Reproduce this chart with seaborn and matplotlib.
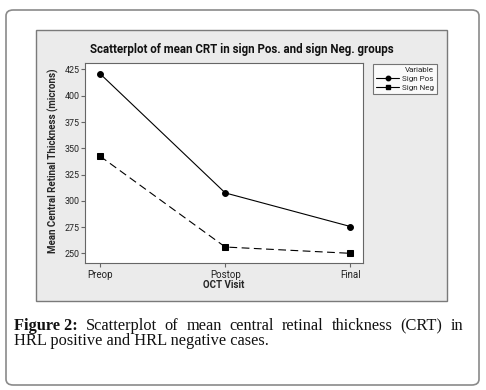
import matplotlib
matplotlib.use("Agg")
import matplotlib.pyplot as plt
import seaborn as sns
import pandas as pd
from matplotlib.patches import FancyBboxPatch, Rectangle
from matplotlib.lines import Line2D

visits = ["Preop", "Postop", "Final"]
sign_pos = [421.0, 307.5, 275.5]
sign_neg = [342.5, 256.0, 250.0]
yticks = [250, 275, 300, 325, 350, 375, 400, 425]

sns.set_theme(style="white")
plt.rcParams['font.family'] = ['Roboto', 'DejaVu Sans']

W, H = 486, 390
fig = plt.figure(figsize=(W / 100, H / 100), dpi=100)
fig.patch.set_facecolor("white")

def fx(x): return x / W
def fy(y): return 1 - y / H

# outer rounded border
fig.patches.append(FancyBboxPatch((fx(6), fy(385)), fx(479) - fx(6), fy(10) - fy(385),
                                  boxstyle="round,pad=0,rounding_size=0.015",
                                  transform=fig.transFigure, facecolor="white",
                                  edgecolor="#8a8a8a", linewidth=1.2, zorder=0))
# gray panel
fig.patches.append(Rectangle((fx(36), fy(301)), fx(447) - fx(36), fy(30.5) - fy(301),
                             transform=fig.transFigure, facecolor="#ebebeb",
                             edgecolor="#7a7a7a", linewidth=1.0, zorder=1))

ax = fig.add_axes([fx(85), fy(263.3), fx(363) - fx(85), fy(63.3) - fy(263.3)])
ax.set_zorder(3)
ax.set_facecolor("white")

df = pd.DataFrame({
    "visit": visits * 2,
    "crt": sign_pos + sign_neg,
    "Variable": ["Sign Pos"] * 3 + ["Sign Neg"] * 3,
})
sns.lineplot(data=df, x="visit", y="crt", hue="Variable", style="Variable",
             palette=["black", "black"], markers={"Sign Pos": "o", "Sign Neg": "s"},
             dashes={"Sign Pos": "", "Sign Neg": (7, 4)}, linewidth=0.8,
             markersize=4.2, markeredgecolor="black", ax=ax, legend=False, sort=False)

ax.set_xlim(-0.12, 2.1)
ax.set_ylim(240.5, 430.9)
ax.set_yticks(yticks)
ax.set_xticks(range(len(visits)))
ax.set_xticklabels(visits)
for s in ax.spines.values():
    s.set_color("#666666")
    s.set_linewidth(0.8)
ax.tick_params(axis="both", which="both", length=3, width=0.8, color="#666666",
               labelcolor="#222222", direction="out", left=True, bottom=True)
ax.tick_params(axis="y", labelsize=6.4, pad=1)
ax.tick_params(axis="x", labelsize=7.0, pad=2)
ax.set_xlabel("OCT Visit", fontsize=7.0, fontweight="bold")
ax.set_ylabel("Mean Central Retinal Thickness (microns)", fontsize=7.0,
              fontweight="bold")
ax.yaxis.set_label_coords((53 - 85) / 278, 0.515)
ax.xaxis.set_label_coords(0.5, (263.3 - 285.5) / 200)
ax.xaxis.label.set_va("center")
ax.yaxis.label.set_va("center")

fig.text(fx(241.5), fy(50), "Scatterplot of mean CRT in sign Pos. and sign Neg. groups",
         ha="center", va="center", fontsize=8.3, fontweight="bold", color="#111111",
         zorder=4)

# legend
handles = [Line2D([], [], color="black", lw=0.8, marker="o", markersize=3.2),
           Line2D([], [], color="black", lw=0.8, marker="s", markersize=3.2)]
leg = fig.legend(handles, ["Sign Pos", "Sign Neg"], title="Variable",
                 loc="upper left", bbox_to_anchor=(fx(373), fy(64)),
                 borderaxespad=0,
                 fontsize=5.8, title_fontsize=5.8, frameon=True, fancybox=False,
                 handlelength=2.8, handletextpad=0.4, borderpad=0.4,
                 labelspacing=0.25, alignment="right")
leg.set_zorder(5)
leg.get_frame().set_edgecolor("#555555")
leg.get_frame().set_linewidth(0.8)
leg.get_frame().set_facecolor("white")

# caption (justified first line)
serif = ["Liberation Serif", "DejaVu Serif"]
fig.canvas.draw()
r = fig.canvas.get_renderer()
words1 = [("Figure 2:", "bold")] + [(w, "normal") for w in
          "Scatterplot of mean central retinal thickness (CRT) in".split()]
left, right = 14, 463
texts = []
widths = []
for w, wt in words1:
    t = fig.text(0, fy(326), w, fontsize=11.8, family=serif, fontweight=wt,
                 va="center", ha="left", color="#111111")
    texts.append(t)
    widths.append(t.get_window_extent(r).width)
gap = (right - left - sum(widths)) / (len(words1) - 1)
x = left
for t, wd in zip(texts, widths):
    t.set_x(fx(x))
    x += wd + gap
fig.text(fx(left), fy(341), "HRL positive and HRL negative cases.", fontsize=11.8,
         family=serif, va="center", ha="left", color="#111111")

fig.savefig("out.png", dpi=100, facecolor="white")
